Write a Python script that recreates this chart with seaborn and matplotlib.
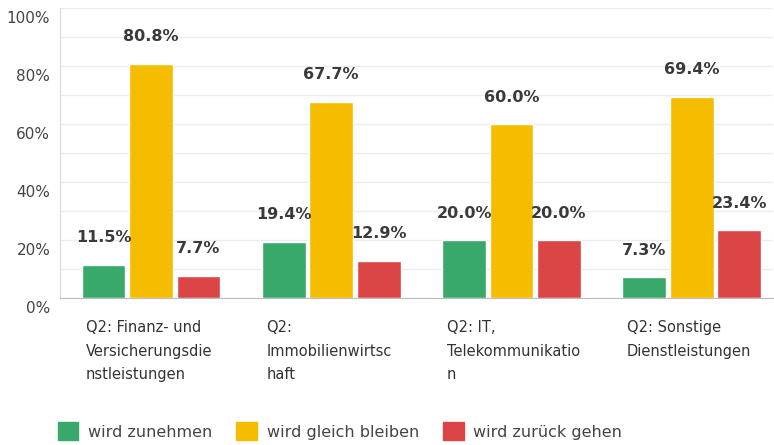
import matplotlib
matplotlib.use("Agg")
import matplotlib.pyplot as plt
import matplotlib.transforms as mtransforms
import seaborn as sns
import pandas as pd
from matplotlib.patches import Patch

# data
categories = [
    "Q2: Finanz- und\nVersicherungsdie\nnstleistungen",
    "Q2:\nImmobilienwirtsc\nhaft",
    "Q2: IT,\nTelekommunikatio\nn",
    "Q2: Sonstige\nDienstleistungen",
]
series = ["wird zunehmen", "wird gleich bleiben", "wird zurück gehen"]
zunehmen = [11.5, 19.4, 20.0, 7.3]
gleich = [80.8, 67.7, 60.0, 69.4]
zurueck = [7.7, 12.9, 20.0, 23.4]
colors = ["#38a96a", "#f6bd00", "#dc4545"]

rows = []
for i, cat in enumerate(categories):
    for name, vals in zip(series, [zunehmen, gleich, zurueck]):
        rows.append({"cat": cat, "serie": name, "value": vals[i]})
df = pd.DataFrame(rows)

sns.set_style("white")
plt.rcParams["font.family"] = ["DejaVu Sans"]

fig = plt.figure(figsize=(7.74, 4.45), dpi=100)
ax = fig.add_axes([0.0775, 0.330, 0.921, 0.652])

sns.barplot(
    data=df, x="cat", y="value", hue="serie", order=categories,
    hue_order=series, palette=colors, width=0.79, gap=0.08,
    saturation=1, legend=False, ax=ax,
)

for cont in ax.containers:
    ax.bar_label(cont, fmt="%.1f%%", padding=14, fontsize=11.5,
                 fontweight="bold", color="#3a3a3a")

ax.set_ylim(0, 100)
ax.set_xlim(-0.505, 3.45)
ax.set_yticks(range(0, 101, 10), minor=True)
ax.set_yticks(range(0, 101, 20))
ax.set_yticklabels([f"{v}%" for v in range(0, 101, 20)], fontsize=11,
                   color="#444444")
ax.grid(axis="y", which="both", color="#ececec", linewidth=1)
ax.set_axisbelow(True)
ax.tick_params(axis="y", which="both", length=0, pad=7)
ax.tick_params(axis="x", length=0, pad=16)

# labels sit a little below their grid lines in the original
shift = mtransforms.ScaledTranslation(0, -9 / 100, fig.dpi_scale_trans)
for lab in ax.get_yticklabels():
    lab.set_transform(lab.get_transform() + shift)

ax.set_xticks([i - 0.36 for i in range(len(categories))])
ax.set_xticklabels(categories, ha="left", va="top", fontsize=10.5,
                   color="#333333", linespacing=1.7)
ax.set_xlabel("")
ax.set_ylabel("")

for s in ["top", "right"]:
    ax.spines[s].set_visible(False)
ax.spines["left"].set_color("#d8d8d8")
ax.spines["bottom"].set_color("#bdbdbd")

handles = [Patch(facecolor=c, edgecolor=c) for c in colors]
fig.legend(handles, series, loc="lower left", bbox_to_anchor=(0.056, -0.022),
           ncol=3, frameon=False, fontsize=11.5, handlelength=1.3,
           handleheight=1.4, handletextpad=0.6, columnspacing=1.5,
           labelcolor="#444444")

fig.savefig("out.png", dpi=100)
